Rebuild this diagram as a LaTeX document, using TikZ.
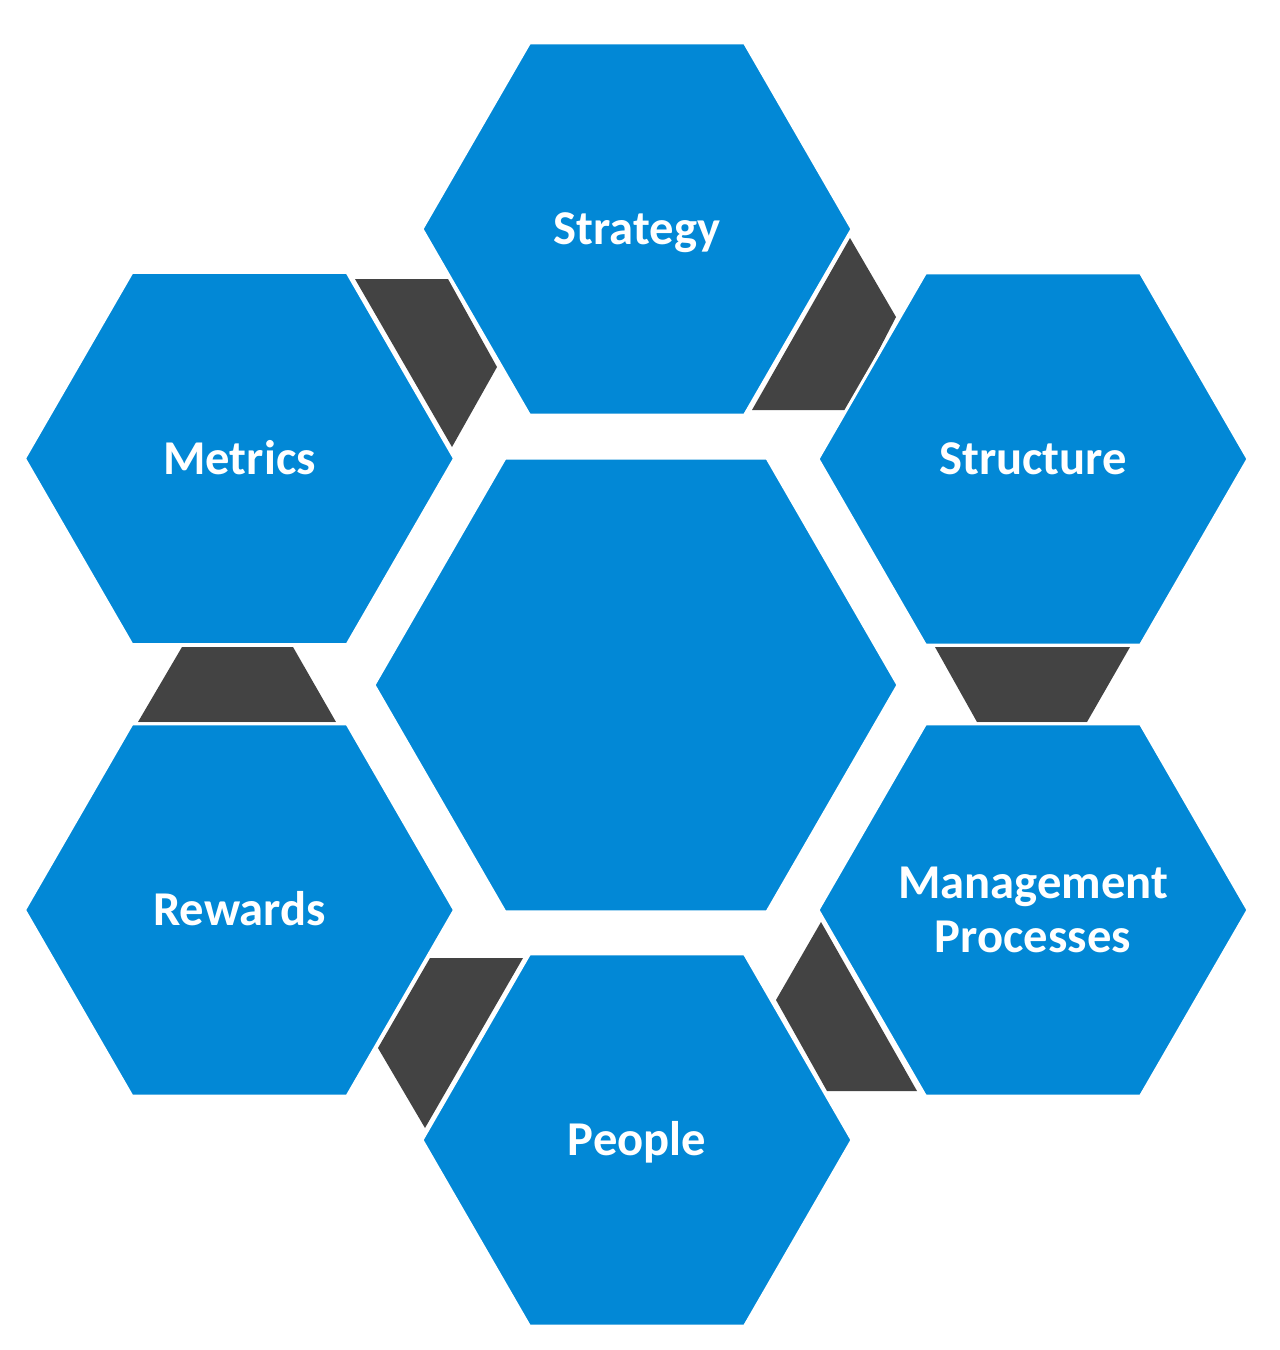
\documentclass[tikz,border=0pt]{standalone}
\usepackage{fontspec}
\setmainfont{Carlito}
\usetikzlibrary{shapes.geometric}
\definecolor{hexblue}{HTML}{0288D6}
\definecolor{linkgray}{HTML}{434343}
\begin{document}
\begin{tikzpicture}[x=0.5pt,y=-0.5pt,
  hexbox/.style={regular polygon, regular polygon sides=6, fill=hexblue, draw=white,
    line width=1.5pt, minimum size=#1, inner sep=-30pt, outer sep=0pt, text=white,
    font=\bfseries\fontsize{24.3}{27}\selectfont, align=center},
  oneline/.style={text height=15.6pt, text depth=0pt},
  link/.style={fill=linkgray, draw=none}]
\useasboundingbox[fill=white] (0,0) rectangle (1280,1350);
% dark links (behind the hexagons)
\path[link] (850,238) -- (896,317) -- (848,410) -- (752,410) -- cycle;
\path[link] (355,279) -- (448,279) -- (497,367) -- (452,447) -- cycle;
\path[link] (182,647) -- (293,647) -- (336,722) -- (138,722) -- cycle;
\path[link] (935,647) -- (1130,647) -- (1087,722) -- (977,722) -- cycle;
\path[link] (821,922) -- (776,1000) -- (827,1091) -- (917,1091) -- cycle;
\path[link] (430,958) -- (523,958) -- (425,1128) -- (378,1048) -- cycle;
% hexagons
\node[hexbox=262pt] (core) at (636,685) {};
\node[hexbox=215pt, oneline] (strategy) at (637,229) {Strategy};
\node[hexbox=215pt, oneline] (metrics) at (239.5,458.5) {Metrics};
\node[hexbox=215pt, oneline] (structure) at (1033,459) {Structure};
\node[hexbox=215pt] (mgmt) at (1033,910) {Management\\Processes};
\node[hexbox=215pt, oneline] (rewards) at (239.5,910) {Rewards};
\node[hexbox=215pt, oneline] (people) at (637,1140) {People};
\end{tikzpicture}
\end{document}
